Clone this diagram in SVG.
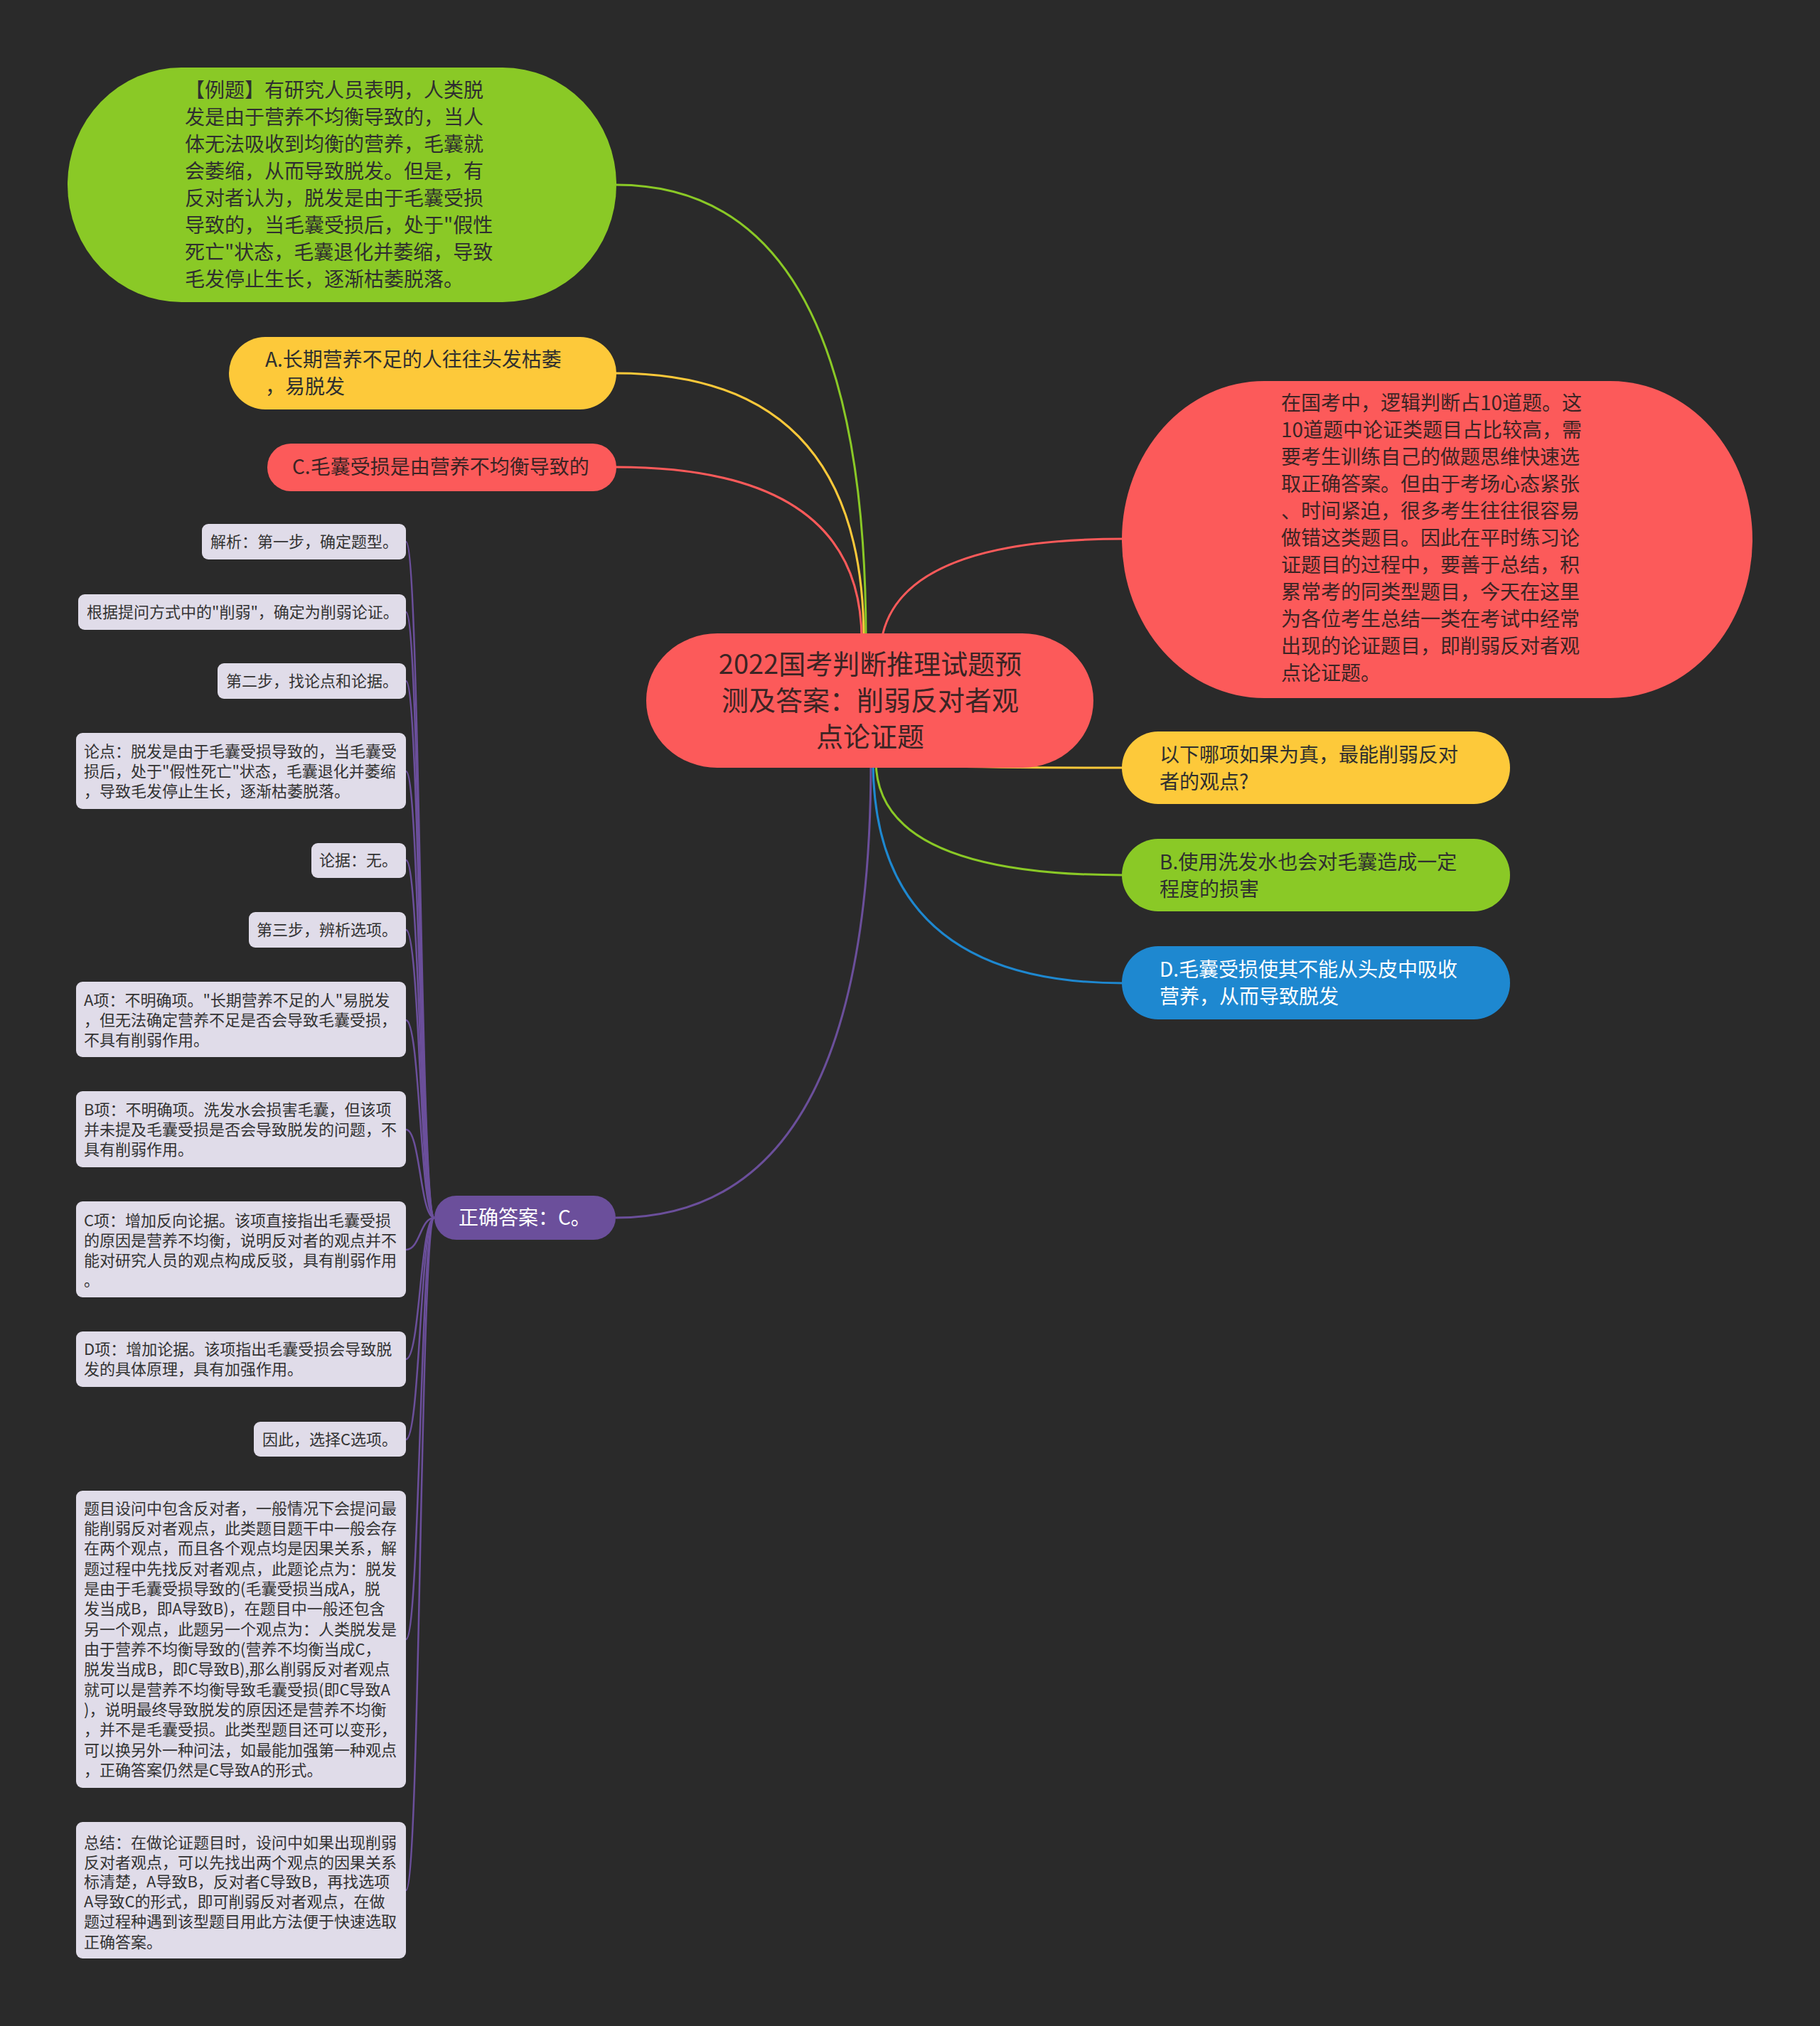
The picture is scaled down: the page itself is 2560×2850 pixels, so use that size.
<svg xmlns="http://www.w3.org/2000/svg" width="2560" height="2850" viewBox="0 0 2560 2850">
<style>
text{font-family:"Noto Sans CJK SC","Noto Sans",sans-serif;}
.t28{font-size:28px;}
.t22{font-size:22px;fill:#333333;}
.dark{fill:#2f2f2f;}
.reddark{fill:#3b2424;}
.white{fill:#ffffff;}
.box{fill:#e0dce9;}
.ln{fill:none;stroke-width:3;}
.sub{fill:none;stroke:#6b4f9b;stroke-width:2.5;}
</style>
<rect x="0" y="0" width="2560" height="2850" fill="#2a2a2a"/>
<g id="connectors">
<path class="ln" stroke="#8ac926" d="M867,260 Q1218,260 1218,900"/>
<path class="ln" stroke="#fdc93a" d="M866,525 Q1215,525 1215,900"/>
<path class="ln" stroke="#fc5a5a" d="M866,657 Q1212,657 1212,900"/>
<path class="ln" stroke="#6b4f9b" d="M866,1713 Q1225,1713 1225,1070"/>
<path class="ln" stroke="#fc5a5a" d="M1240,900 Q1265,758 1580,758"/>
<path class="ln" stroke="#fdc93a" d="M1230,1070 Q1230,1080 1580,1080"/>
<path class="ln" stroke="#8ac926" d="M1232,1070 Q1232,1231 1580,1231"/>
<path class="ln" stroke="#1e88d0" d="M1228,1070 Q1228,1383 1580,1383"/>
<path class="sub" d="M611,1713 C591,1713 591,762 571,762"/>
<path class="sub" d="M611,1713 C591,1713 591,861 571,861"/>
<path class="sub" d="M611,1713 C591,1713 591,958 571,958"/>
<path class="sub" d="M611,1713 C591,1713 591,1085 571,1085"/>
<path class="sub" d="M611,1713 C591,1713 591,1210 571,1210"/>
<path class="sub" d="M611,1713 C591,1713 591,1308 571,1308"/>
<path class="sub" d="M611,1713 C591,1713 591,1435 571,1435"/>
<path class="sub" d="M611,1713 C591,1713 591,1589 571,1589"/>
<path class="sub" d="M611,1713 C591,1713 591,1758 571,1758"/>
<path class="sub" d="M611,1713 C591,1713 591,1912 571,1912"/>
<path class="sub" d="M611,1713 C591,1713 591,2025 571,2025"/>
<path class="sub" d="M611,1713 C591,1713 591,2306 571,2306"/>
<path class="sub" d="M611,1713 C591,1713 591,2659 571,2659"/>
</g>
<g id="center">
<rect x="909" y="891" width="629" height="189" rx="100" ry="94" fill="#fc5a5a"/>
<text class="reddark" font-size="38" text-anchor="middle"><tspan x="1224" y="948">2022国考判断推理试题预</tspan><tspan x="1224" y="999">测及答案：削弱反对者观</tspan><tspan x="1224" y="1050">点论证题</tspan></text>
</g>
<g id="node-example">
<rect x="95" y="95" width="772" height="330" rx="160" ry="165" fill="#8ac926"/>
<text class="t28 dark"><tspan x="260" y="137">【例题】有研究人员表明，人类脱</tspan><tspan x="260" y="175">发是由于营养不均衡导致的，当人</tspan><tspan x="260" y="213">体无法吸收到均衡的营养，毛囊就</tspan><tspan x="260" y="251">会萎缩，从而导致脱发。但是，有</tspan><tspan x="260" y="289">反对者认为，脱发是由于毛囊受损</tspan><tspan x="260" y="327">导致的，当毛囊受损后，处于"假性</tspan><tspan x="260" y="365">死亡"状态，毛囊退化并萎缩，导致</tspan><tspan x="260" y="403">毛发停止生长，逐渐枯萎脱落。</tspan></text>
</g>
<g id="node-a">
<rect x="322" y="474" width="545" height="102" rx="51" fill="#fdc93a"/>
<text class="t28 dark"><tspan x="373" y="516">A.长期营养不足的人往往头发枯萎</tspan><tspan x="373" y="554">，易脱发</tspan></text>
</g>
<g id="node-c">
<rect x="376" y="624" width="491" height="67" rx="33" fill="#fc5a5a"/>
<text class="t28 reddark" x="411" y="667">C.毛囊受损是由营养不均衡导致的</text>
</g>
<g id="node-intro">
<rect x="1578" y="536" width="887" height="446" rx="200" ry="223" fill="#fc5a5a"/>
<text class="t28 reddark"><tspan x="1802" y="577">在国考中，逻辑判断占10道题。这</tspan><tspan x="1802" y="615">10道题中论证类题目占比较高，需</tspan><tspan x="1802" y="653">要考生训练自己的做题思维快速选</tspan><tspan x="1802" y="691">取正确答案。但由于考场心态紧张</tspan><tspan x="1802" y="729">、时间紧迫，很多考生往往很容易</tspan><tspan x="1802" y="767">做错这类题目。因此在平时练习论</tspan><tspan x="1802" y="805">证题目的过程中，要善于总结，积</tspan><tspan x="1802" y="843">累常考的同类型题目，今天在这里</tspan><tspan x="1802" y="881">为各位考生总结一类在考试中经常</tspan><tspan x="1802" y="919">出现的论证题目，即削弱反对者观</tspan><tspan x="1802" y="957">点论证题。</tspan></text>
</g>
<g id="node-question">
<rect x="1578" y="1029" width="546" height="102" rx="51" fill="#fdc93a"/>
<text class="t28 dark"><tspan x="1631" y="1072">以下哪项如果为真，最能削弱反对</tspan><tspan x="1631" y="1110">者的观点?</tspan></text>
</g>
<g id="node-b">
<rect x="1578" y="1180" width="546" height="102" rx="51" fill="#8ac926"/>
<text class="t28 dark"><tspan x="1631" y="1223">B.使用洗发水也会对毛囊造成一定</tspan><tspan x="1631" y="1261">程度的损害</tspan></text>
</g>
<g id="node-d">
<rect x="1578" y="1331" width="546" height="103" rx="51" fill="#1e88d0"/>
<text class="t28 white"><tspan x="1631" y="1374">D.毛囊受损使其不能从头皮中吸收</tspan><tspan x="1631" y="1412">营养，从而导致脱发</tspan></text>
</g>
<g id="node-answer">
<rect x="611" y="1682" width="255" height="62" rx="31" fill="#6b4f9b"/>
<text class="t28 white" x="645" y="1723">正确答案：C。</text>
</g>
<g id="box1">
<rect class="box" x="284" y="737" width="287" height="50" rx="9"/>
<text class="t22" x="296" y="770">解析：第一步，确定题型。</text>
</g>
<g id="box2">
<rect class="box" x="110" y="836" width="461" height="50" rx="9"/>
<text class="t22" x="122" y="869">根据提问方式中的"削弱"，确定为削弱论证。</text>
</g>
<g id="box3">
<rect class="box" x="306" y="933" width="265" height="50" rx="9"/>
<text class="t22" x="318" y="966">第二步，找论点和论据。</text>
</g>
<g id="box4">
<rect class="box" x="107" y="1031" width="464" height="107" rx="9"/>
<text class="t22"><tspan x="118" y="1065">论点：脱发是由于毛囊受损导致的，当毛囊受</tspan><tspan x="118" y="1093">损后，处于"假性死亡"状态，毛囊退化并萎缩</tspan><tspan x="118" y="1121">，导致毛发停止生长，逐渐枯萎脱落。</tspan></text>
</g>
<g id="box5">
<rect class="box" x="438" y="1186" width="133" height="49" rx="9"/>
<text class="t22" x="449" y="1218">论据：无。</text>
</g>
<g id="box6">
<rect class="box" x="350" y="1283" width="221" height="50" rx="9"/>
<text class="t22" x="361" y="1316">第三步，辨析选项。</text>
</g>
<g id="box7">
<rect class="box" x="107" y="1381" width="464" height="106" rx="9"/>
<text class="t22"><tspan x="118" y="1415">A项：不明确项。"长期营养不足的人"易脱发</tspan><tspan x="118" y="1443">，但无法确定营养不足是否会导致毛囊受损，</tspan><tspan x="118" y="1471">不具有削弱作用。</tspan></text>
</g>
<g id="box8">
<rect class="box" x="107" y="1535" width="464" height="107" rx="9"/>
<text class="t22"><tspan x="118" y="1569">B项：不明确项。洗发水会损害毛囊，但该项</tspan><tspan x="118" y="1597">并未提及毛囊受损是否会导致脱发的问题，不</tspan><tspan x="118" y="1625">具有削弱作用。</tspan></text>
</g>
<g id="box9">
<rect class="box" x="107" y="1690" width="464" height="135" rx="9"/>
<text class="t22"><tspan x="118" y="1725">C项：增加反向论据。该项直接指出毛囊受损</tspan><tspan x="118" y="1753">的原因是营养不均衡，说明反对者的观点并不</tspan><tspan x="118" y="1781">能对研究人员的观点构成反驳，具有削弱作用</tspan><tspan x="118" y="1809">。</tspan></text>
</g>
<g id="box10">
<rect class="box" x="107" y="1873" width="464" height="78" rx="9"/>
<text class="t22"><tspan x="118" y="1906">D项：增加论据。该项指出毛囊受损会导致脱</tspan><tspan x="118" y="1934">发的具体原理，具有加强作用。</tspan></text>
</g>
<g id="box11">
<rect class="box" x="357" y="2000" width="214" height="49" rx="9"/>
<text class="t22" x="369" y="2033">因此，选择C选项。</text>
</g>
<g id="box12">
<rect class="box" x="107" y="2097" width="464" height="418" rx="9"/>
<text class="t22"><tspan x="118" y="2130">题目设问中包含反对者，一般情况下会提问最</tspan><tspan x="118" y="2158">能削弱反对者观点，此类题目题干中一般会存</tspan><tspan x="118" y="2186">在两个观点，而且各个观点均是因果关系，解</tspan><tspan x="118" y="2215">题过程中先找反对者观点，此题论点为：脱发</tspan><tspan x="118" y="2243">是由于毛囊受损导致的(毛囊受损当成A，脱</tspan><tspan x="118" y="2271">发当成B，即A导致B)，在题目中一般还包含</tspan><tspan x="118" y="2300">另一个观点，此题另一个观点为：人类脱发是</tspan><tspan x="118" y="2328">由于营养不均衡导致的(营养不均衡当成C，</tspan><tspan x="118" y="2356">脱发当成B，即C导致B),那么削弱反对者观点</tspan><tspan x="118" y="2385">就可以是营养不均衡导致毛囊受损(即C导致A</tspan><tspan x="118" y="2413">)，说明最终导致脱发的原因还是营养不均衡</tspan><tspan x="118" y="2441">，并不是毛囊受损。此类型题目还可以变形，</tspan><tspan x="118" y="2470">可以换另外一种问法，如最能加强第一种观点</tspan><tspan x="118" y="2498">，正确答案仍然是C导致A的形式。</tspan></text>
</g>
<g id="box13">
<rect class="box" x="107" y="2563" width="464" height="192" rx="9"/>
<text class="t22"><tspan x="118" y="2600">总结：在做论证题目时，设问中如果出现削弱</tspan><tspan x="118" y="2628">反对者观点，可以先找出两个观点的因果关系</tspan><tspan x="118" y="2655">标清楚，A导致B，反对者C导致B，再找选项</tspan><tspan x="118" y="2683">A导致C的形式，即可削弱反对者观点，在做</tspan><tspan x="118" y="2711">题过程种遇到该型题目用此方法便于快速选取</tspan><tspan x="118" y="2740">正确答案。</tspan></text>
</g>
</svg>
